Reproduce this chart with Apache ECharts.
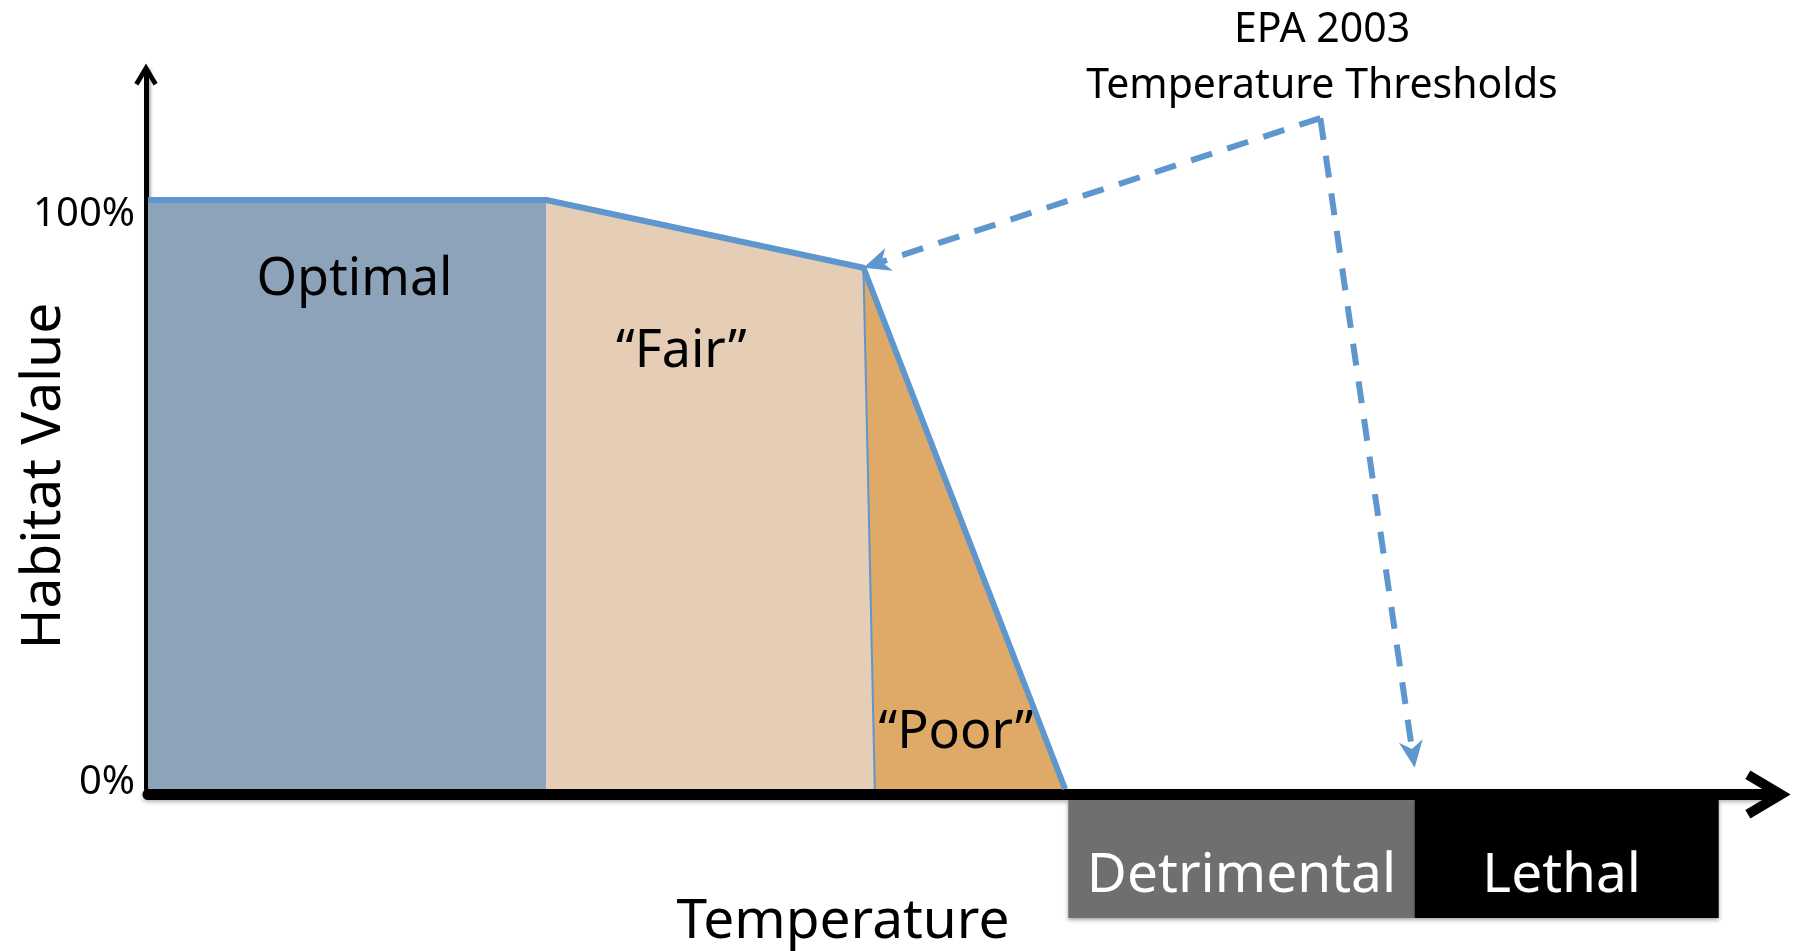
<!DOCTYPE html>
<html>
<head>
<meta charset="utf-8">
<script src="https://cdn.jsdelivr.net/npm/echarts@6/dist/echarts.min.js"></script>
<style>
html,body{margin:0;padding:0;background:#fff;}
#chart{width:1800px;height:951px;}
</style>
</head>
<body>
<div id="chart"></div>
<script>
// ---------- data ----------
const curveX = [0, 24.5, 44.0, 56.4];       // habitat curve breakpoints (temperature units)
const curveY = [100, 100, 88.5, 0];         // habitat value (%)
const fairPoorBaseX = 44.7;                 // where the Fair/Poor divide meets the axis
const zoneNames = ['Optimal', '\u201cFair\u201d', '\u201cPoor\u201d'];
const zoneLabelX = [12.7, 32.8, 49.7];
const zoneLabelY = [87.1, 74.9, 10.2];
const thresholdNames = ['Detrimental', 'Lethal'];
const thresholdStartX = [56.6, 77.9];
const thresholdEndX = [77.9, 96.6];
const calloutApex = [72.1, 113.9];
const calloutTargetX = [44.0, 77.9];
const calloutTargetY = [88.5, 3.6];
const yTickValues = [0, 100];
const titleLines = ['EPA 2003', 'Temperature Thresholds'];
const xAxisTitle = 'Temperature';
const yAxisTitle = 'Habitat Value';

// ---------- styles ----------
const FONT = '"Noto Sans", "Open Sans", sans-serif';
const BLUE = '#5E96CE';
const zoneColors = ['#8DA3B9', '#E6CEB6', '#DFA968'];
const thresholdColors = ['#6F6F6F', '#000000'];
const chevron = 'path://M50,0L100,84L82.5,94.4L50,40L17.5,94.4L0,84Z';

function txt(text, size, extra) {
  return Object.assign({
    text: text,
    font: size + 'px ' + FONT,
    fontSize: size,
    fontFamily: FONT,
    fill: '#000',
    align: 'center', verticalAlign: 'middle',
    textAlign: 'center', textVerticalAlign: 'middle'
  }, extra || {});
}

function renderZone(params, api) {
  const i = api.value(2);
  const P = (x, y) => api.coord([x, y]);
  const [x0, x1, x2, x3] = curveX;
  const [y0, y1, y2, y3] = curveY;
  let pts;
  if (i === 0) pts = [P(x0, 0), P(x0, y0), P(x1, y1), P(x1, 0)];
  else if (i === 1) pts = [P(x1, 0), P(x1, y1), P(x2, y2), P(fairPoorBaseX, 0)];
  else pts = [P(x2, y2), P(x3, y3), P(fairPoorBaseX, 0)];
  const children = [{ type: 'polygon', shape: { points: pts }, style: { fill: zoneColors[i] } }];
  if (i === 2) {
    const a = P(x2, y2), b = P(fairPoorBaseX, 0);
    children.push({ type: 'line', shape: { x1: a[0], y1: a[1], x2: b[0], y2: b[1] },
      style: { stroke: BLUE, lineWidth: 2 } });
  }
  const c = P(api.value(0), api.value(1));
  children.push({ type: 'text', x: c[0], y: c[1] + 4, style: txt(zoneNames[i], 52) });
  return { type: 'group', children: children };
}

function renderThreshold(params, api) {
  const i = api.value(2);
  const a = api.coord([thresholdStartX[i], 0]);
  const b = api.coord([thresholdEndX[i], 0]);
  const top = a[1] + 11, h = 118;
  return { type: 'group', children: [
    { type: 'rect', shape: { x: a[0], y: top, width: b[0] - a[0], height: h },
      style: { fill: thresholdColors[i], shadowBlur: 4, shadowColor: 'rgba(0,0,0,0.35)', shadowOffsetY: 2 } },
    { type: 'text', x: (a[0] + b[0]) / 2 - (i === 1 ? 5 : 0), y: top + 72 + 4, style: txt(thresholdNames[i], 55, { fill: '#fff' }) }
  ]};
}

function renderCallout(params, api) {
  const apex = api.coord(calloutApex);
  const children = [];
  for (let k = 0; k < calloutTargetX.length; k++) {
    const tip = api.coord([calloutTargetX[k], calloutTargetY[k]]);
    const dx = tip[0] - apex[0], dy = tip[1] - apex[1];
    const len = Math.hypot(dx, dy);
    const ux = dx / len, uy = dy / len, nx = -uy, ny = ux;
    const headLen = 27, halfW = 12, notch = 8;
    const stop = [tip[0] - ux * (headLen - notch), tip[1] - uy * (headLen - notch)];
    const back = [tip[0] - ux * headLen, tip[1] - uy * headLen];
    children.push({ type: 'line', shape: { x1: apex[0], y1: apex[1], x2: stop[0], y2: stop[1] },
      style: { stroke: BLUE, lineWidth: 6, lineDash: [22, 16], fill: null } });
    children.push({ type: 'polygon', shape: { points: [
      tip, [back[0] + nx * halfW, back[1] + ny * halfW], stop, [back[0] - nx * halfW, back[1] - ny * halfW]
    ] }, style: { fill: BLUE } });
  }
  return { type: 'group', children: children };
}

const chart = echarts.init(document.getElementById('chart'), null, { renderer: 'canvas' });
chart.setOption({
  animation: false,
  backgroundColor: '#fff',
  grid: { left: 148, right: 26, top: 70.4, bottom: 162, containLabel: false, outerBoundsMode: 'none' },
  xAxis: {
    type: 'value', min: 0, max: 100, offset: 5.5,
    axisLine: { show: true, onZero: false, symbol: ['none', chevron], symbolSize: [48, 46], symbolOffset: [0, -6],
      lineStyle: { color: '#000', width: 11, shadowBlur: 4, shadowColor: 'rgba(0,0,0,0.3)', shadowOffsetY: 2 } },
    axisTick: { show: false }, axisLabel: { show: false }, splitLine: { show: false }
  },
  yAxis: {
    type: 'value', min: 0, max: 122, interval: 100, offset: 2,
    axisLine: { show: true, onZero: false, symbol: ['none', chevron], symbolSize: [24, 22], symbolOffset: [0, -4],
      lineStyle: { color: '#000', width: 5, shadowBlur: 3, shadowColor: 'rgba(0,0,0,0.3)', shadowOffsetX: 2 } },
    axisTick: { show: false }, splitLine: { show: false },
    axisLabel: {
      margin: 11,
      formatter: v => yTickValues.includes(v) ? '{' + (v > 0 ? 'hi' : 'lo') + '|' + v + '%}' : '',
      rich: {
        hi: { fontSize: 40, fontFamily: FONT, color: '#000', padding: [29, 0, 0, 0] },
        lo: { fontSize: 40, fontFamily: FONT, color: '#000', padding: [0, 0, 13, 0] }
      }
    }
  },
  series: [
    { type: 'custom', name: 'zones', coordinateSystem: 'cartesian2d', clip: false, z: 2,
      renderItem: renderZone,
      data: zoneNames.map((n, i) => [zoneLabelX[i], zoneLabelY[i], i]) },
    { type: 'line', name: 'habitat', clip: false, z: 3, symbol: 'none',
      lineStyle: { color: BLUE, width: 6, join: 'round' },
      data: curveX.map((x, i) => [x, curveY[i]]) },
    { type: 'custom', name: 'thresholds', coordinateSystem: 'cartesian2d', clip: false, z: 2,
      renderItem: renderThreshold,
      data: thresholdNames.map((n, i) => [thresholdStartX[i], 0, i]) },
    { type: 'custom', name: 'callout', coordinateSystem: 'cartesian2d', clip: false, z: 4,
      renderItem: renderCallout,
      data: [[calloutApex[0], calloutApex[1]]] }
  ],
  graphic: [
    { type: 'text', x: 1322, y: 30, style: txt(titleLines[0], 41) },
    { type: 'text', x: 1322, y: 86, style: txt(titleLines[1], 41) },
    { type: 'text', x: 843, y: 922, style: txt(xAxisTitle, 55) },
    { type: 'text', x: 44, y: 476, rotation: Math.PI / 2, style: txt(yAxisTitle, 55) }
  ]
});
</script>
</body>
</html>
